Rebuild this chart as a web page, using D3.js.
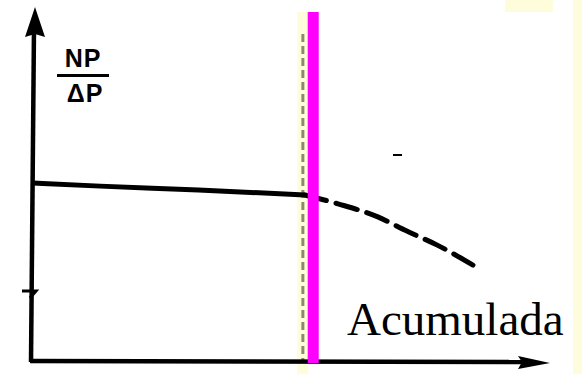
<!DOCTYPE html>
<html>
<head>
<meta charset="utf-8">
<script src="https://cdn.jsdelivr.net/npm/d3@7"></script>
<style>
  html, body { margin: 0; padding: 0; background: #fff; }
  svg { display: block; }
</style>
</head>
<body>
<div id="chart"></div>
<script>
/* Data (axis units 0..100) */
var solidX = [0, 13, 32, 52.6];
var solidY = [50.3, 49.4, 48.3, 46.9];
var dashX = [52.6, 59, 66.7, 72.3, 78.1, 85.1];
var dashY = [46.9, 44.4, 40.7, 36.7, 32.8, 27.1];
var markerX = [52.2, 54.2];          // grey dashed guide, magenta line
var yTicks = [19.2];
var yLabelTop = "NP", yLabelBottom = "ΔP";
var xLabel = "Acumulada";

var width = 582, height = 374;

var svg = d3.select("#chart").append("svg")
    .attr("width", width)
    .attr("height", height);

var x = d3.scaleLinear().domain([0, 100]).range([33, 550]);
var y = d3.scaleLinear().domain([0, 100]).range([361, 7]);

/* Light yellow background patches */
svg.append("rect").attr("x", 505).attr("y", 0).attr("width", 48).attr("height", 12).attr("fill", "#fdfddc");
svg.append("rect").attr("x", 573).attr("y", 0).attr("width", 9).attr("height", height).attr("fill", "#fdfddc");
svg.append("rect").attr("x", x(markerX[1]) - 16).attr("y", 12).attr("width", 11).attr("height", height - 12).attr("fill", "#fdfddc");

/* Grey dashed guide */
svg.append("line")
    .attr("x1", x(markerX[0])).attr("x2", x(markerX[0]))
    .attr("y1", 34).attr("y2", y(0))
    .attr("stroke", "#8c8c6c")
    .attr("stroke-width", 3)
    .attr("stroke-dasharray", "8,4");

/* Axes */
svg.append("line")
    .attr("x1", x(0) - 2).attr("y1", y(0) + 1)
    .attr("x2", x(0) + 1).attr("y2", y(100) + 20)
    .attr("stroke", "#000").attr("stroke-width", 4.5);
svg.append("path")
    .attr("d", "M" + (x(0) + 2) + "," + y(100) + " L" + (x(0) + 12) + "," + (y(100) + 30) +
        " L" + (x(0) + 2) + "," + (y(100) + 27) + " L" + (x(0) - 8) + "," + (y(100) + 30) + " Z")
    .attr("fill", "#000");

svg.append("line")
    .attr("x1", x(0) - 3).attr("y1", y(0))
    .attr("x2", x(100) - 20).attr("y2", y(0) + 1)
    .attr("stroke", "#000").attr("stroke-width", 4.5);
svg.append("path")
    .attr("d", "M" + x(100) + "," + (y(0) + 2) + " L" + (x(100) - 32) + "," + (y(0) - 5) +
        " L" + (x(100) - 28) + "," + (y(0) + 1) + " L" + (x(100) - 32) + "," + (y(0) + 8) + " Z")
    .attr("fill", "#000");

/* small tick on the y axis */
svg.selectAll(".ytick")
    .data(yTicks)
    .enter()
    .append("path")
    .attr("class", "ytick")
    .attr("d", function(d) { return "M" + (x(0) - 11) + "," + (y(d) - 2) + " L" + (x(0) + 3) + "," + (y(d) - 2) + " L" + (x(0) - 3) + "," + (y(d) + 5); })
    .attr("fill", "none")
    .attr("stroke", "#000")
    .attr("stroke-width", 3);

/* Curves */
var line = d3.line()
    .x(function(d) { return x(d[0]); })
    .y(function(d) { return y(d[1]); })
    .curve(d3.curveMonotoneX);

svg.append("path")
    .datum(d3.zip(solidX, solidY))
    .attr("d", line)
    .attr("fill", "none")
    .attr("stroke", "#000")
    .attr("stroke-width", 5);

var dashed = svg.append("path")
    .datum(d3.zip(dashX, dashY))
    .attr("d", line)
    .attr("fill", "none")
    .attr("stroke", "#000")
    .attr("stroke-width", 5)
    .attr("stroke-linecap", "round");

/* make the pattern end on a full dash */
var len = dashed.node().getTotalLength();
var n = Math.round((len + 10) / 33);
var period = (len + 10) / n;
dashed.attr("stroke-dasharray", (period - 10) + "," + 10);

/* Magenta marker line */
svg.append("rect")
    .attr("x", x(markerX[1]) - 5.5)
    .attr("y", 12)
    .attr("width", 11)
    .attr("height", y(0) + 2 - 12)
    .attr("fill", "#ff00ff");

/* stray specks from the scan */
svg.append("line").attr("x1", 393).attr("x2", 402).attr("y1", 155).attr("y2", 155).attr("stroke", "#000").attr("stroke-width", 2);

/* y label as a fraction */
var lab = svg.append("g").attr("font-family", "Liberation Sans, Arial, sans-serif").attr("font-weight", "bold").attr("font-size", 25);
lab.append("text").attr("x", 83).attr("y", 67).attr("text-anchor", "middle").attr("letter-spacing", 1).text(yLabelTop);
lab.append("line").attr("x1", 57).attr("x2", 109).attr("y1", 75.5).attr("y2", 75.5).attr("stroke", "#000").attr("stroke-width", 3);
lab.append("text").attr("x", 85).attr("y", 102).attr("text-anchor", "middle").attr("letter-spacing", 1).text(yLabelBottom);

/* x label */
svg.append("text")
    .attr("x", 347)
    .attr("y", 335)
    .attr("font-family", "Liberation Serif, Times New Roman, serif")
    .attr("font-size", 47)
    .attr("fill", "#000")
    .text(xLabel);
</script>
</body>
</html>
